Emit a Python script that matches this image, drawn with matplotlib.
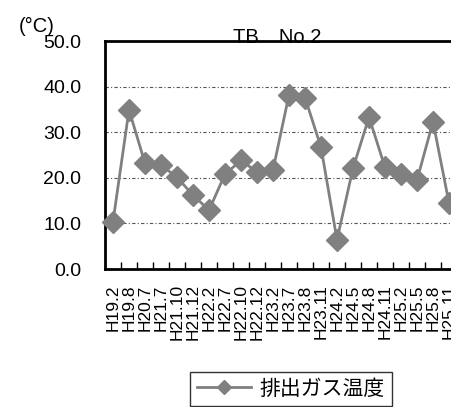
import matplotlib
matplotlib.use("Agg")
import matplotlib.pyplot as plt
from matplotlib.ticker import FixedLocator, FixedFormatter
from matplotlib.lines import Line2D

plt.rcParams['font.family'] = ['Liberation Sans', 'Noto Sans CJK JP', 'DejaVu Sans']

# Exhaust gas temperature survey, TB No.2
periods = ["H19.2", "H19.8", "H20.7", "H21.7", "H21.10", "H21.12", "H22.2",
           "H22.7", "H22.10", "H22.12", "H23.2", "H23.7", "H23.8", "H23.11",
           "H24.2", "H24.5", "H24.8", "H24.11", "H25.2", "H25.5", "H25.8",
           "H25.11"]
exhaust_temp = [10.4, 34.9, 23.2, 22.8, 20.1, 16.2, 12.9, 20.8, 23.8, 21.3,
                21.7, 38.2, 37.6, 26.7, 6.4, 22.1, 33.3, 22.3, 20.8, 19.5,
                32.3, 14.5]
y_ticks = [0, 10, 20, 30, 40, 50]
series_name = "排出ガス温度"
title = "TB\u3000No.2"
unit = "(°C)"

W, H = 452, 407
fig = plt.figure(figsize=(W / 100, H / 100), dpi=100)

# axes box in pixels: left 105, top 41, bottom 269, category width 16
left, top, bottom, cat_w = 105, 41, 269, 16
n = len(periods)
ax_w = n * cat_w
ax = fig.add_axes([left / W, (H - bottom) / H, ax_w / W, (bottom - top) / H])

gray = "#808080"
x = list(range(n))
ax.plot(x, exhaust_temp, color=gray, lw=2, marker="D", ms=11,
        markerfacecolor=gray, markeredgecolor=gray, zorder=3, clip_on=False)

ax.set_xlim(-0.5, n - 0.5)
ax.set_ylim(0, 50)

# y axis
ax.yaxis.set_major_locator(FixedLocator(y_ticks))
ax.set_yticklabels([f"{v:.1f}" for v in y_ticks])
ax.tick_params(axis="y", labelsize=14, length=0, pad=17)
for v in y_ticks[1:-1]:
    ax.axhline(v, color="#555555", lw=0.8, ls=(0, (3, 2, 1, 2)), zorder=1)

# x axis: labels at centers, inward ticks at boundaries
ax.xaxis.set_major_locator(FixedLocator(x))
ax.xaxis.set_major_formatter(FixedFormatter(periods))
ax.tick_params(axis="x", which="major", length=0, labelsize=12.5,
               labelrotation=90, pad=11)
ax.xaxis.set_minor_locator(FixedLocator([i + 0.5 for i in range(n - 1)]))
ax.tick_params(axis="x", which="minor", direction="in", length=5, width=1,
               color="black")

for s in ["left", "bottom", "top", "right"]:
    ax.spines[s].set_linewidth(2)
    ax.spines[s].set_color("black")

# title sitting on the top border
ax.text((277 - left) / ax_w, 1.0 - 2 / (bottom - top),
        title, transform=ax.transAxes, ha="center", va="baseline",
        fontsize=14.5, zorder=1, clip_on=False)

# unit label
fig.text(19 / W, 1 - 32 / H, unit, fontsize=14.5, ha="left", va="baseline")

# legend box at the bottom
handle = Line2D([0], [0], color=gray, lw=2, marker="D", ms=7,
                markerfacecolor=gray, markeredgecolor=gray)
leg = fig.legend([handle], [series_name], loc="upper left",
                 bbox_to_anchor=(190 / W, 1 - 372 / H), frameon=True,
                 fancybox=False, edgecolor="black", fontsize=15,
                 handlelength=2.6, borderpad=0.35, handletextpad=0.4,
                 borderaxespad=0)
leg.get_frame().set_linewidth(1)

fig.savefig("out.png", dpi=100)
